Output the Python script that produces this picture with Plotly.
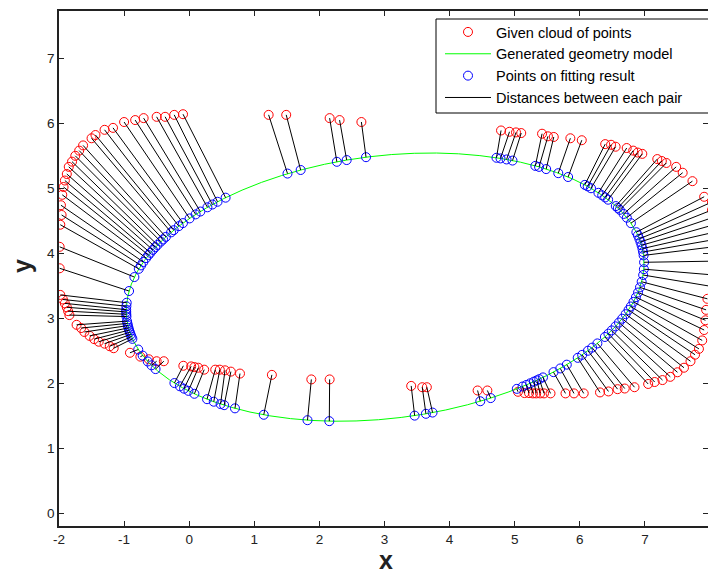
import plotly.graph_objects as go

FONT = "Liberation Sans, Arial, Helvetica, sans-serif"

# Given cloud of points (red)
red_x = [
    # upper-left arc
    -0.095, -0.23, -0.37, -0.50, -0.70, -0.83, -1.00, -1.17, -1.30, -1.44, -1.50, -1.63, -1.69,
    -1.75, -1.80, -1.85, -1.88, -1.91, -1.93, -1.95, -1.97, -1.96, -1.98, -1.99, -1.99,
    # left side
    -1.98, -1.94, -1.91, -1.88, -1.86, -1.84, -1.73, -1.66, -1.61, -1.53, -1.46, -1.39, -1.30, -1.22, -1.16,
    # lower-left
    -0.91, -0.75, -0.62, -0.50, -0.39,
    -0.09, 0.03, 0.08, 0.14, 0.23,
    0.40, 0.47, 0.55, 0.64, 0.78,
    # bottom isolated
    1.27, 1.876, 2.157, 3.41, 3.58, 3.65, 4.43, 4.58,
    # lower-right arc
    5.05, 5.15, 5.22, 5.28, 5.33, 5.39, 5.45, 5.55, 5.78, 5.91, 6.06, 6.31, 6.44, 6.58, 6.69,
    6.84, 7.05, 7.15, 7.27, 7.39, 7.50, 7.60, 7.70, 7.77, 7.83, 7.88, 7.91, 7.93, 7.94, 7.96,
    # right side (beyond the visible edge)
    8.058, 8.08, 8.087, 8.072, 8.056, 8.082, 8.054, 8.07, 8.03, 8.03,
    # upper-right arc
    7.91, 7.73, 7.58, 7.48, 7.33, 7.26, 7.19, 6.96, 6.89, 6.82, 6.72, 6.55, 6.48, 6.39,
    6.03, 5.855, 5.60, 5.51, 5.42, 5.10, 5.02, 4.92, 4.79,
    # upper middle
    2.645, 2.31, 2.157, 1.49, 1.22,
]
red_y = [
    6.14, 6.13, 6.10, 6.10, 6.08, 6.05, 6.02, 5.93, 5.90, 5.82, 5.77, 5.66, 5.58,
    5.50, 5.41, 5.33, 5.22, 5.12, 5.02, 4.90, 4.74, 4.59, 4.44, 4.10, 3.77,
    3.36, 3.29, 3.23, 3.17, 3.11, 3.05, 2.90, 2.85, 2.79, 2.73, 2.68, 2.64, 2.61, 2.57, 2.54,
    2.47, 2.41, 2.37, 2.34, 2.34,
    2.27, 2.26, 2.25, 2.24, 2.21,
    2.21, 2.21, 2.20, 2.18, 2.15,
    2.13, 2.06, 2.06, 1.96, 1.94, 1.94, 1.89, 1.89,
    1.87, 1.85, 1.85, 1.845, 1.845, 1.845, 1.845, 1.845, 1.845, 1.845, 1.845, 1.86, 1.875, 1.91, 1.92,
    1.94, 1.99, 2.02, 2.05, 2.10, 2.17, 2.24, 2.34, 2.44, 2.53, 2.66, 2.82, 2.97, 3.13, 3.30,
    3.485, 3.665, 3.88, 4.102, 4.21, 4.329, 4.438, 4.56, 4.667, 4.79,
    4.87, 5.11, 5.24, 5.33, 5.39, 5.42, 5.45, 5.53, 5.55, 5.58, 5.62, 5.64, 5.67, 5.68,
    5.74, 5.77, 5.79, 5.80, 5.84, 5.85, 5.86, 5.87, 5.89,
    6.02, 6.05, 6.08, 6.13, 6.13,
]

# Points on fitting result (blue) -- paired with the red points above
fit_x = [
    0.559, 0.435, 0.356, 0.280, 0.171, 0.099, 0.006, -0.096, -0.160, -0.238, -0.278, -0.359, -0.401,
    -0.436, -0.487, -0.520, -0.558, -0.596, -0.625, -0.661, -0.705, -0.740, -0.774, -0.842, -0.924,
    -0.960, -0.965, -0.968, -0.967, -0.966, -0.964, -0.955, -0.949, -0.942, -0.933, -0.923, -0.912, -0.900, -0.887, -0.873,
    -0.783, -0.715, -0.637, -0.579, -0.517,
    -0.227, -0.143, -0.079, -0.012, 0.080,
    0.274, 0.377, 0.482, 0.537, 0.703,
    1.145, 1.817, 2.152, 3.463, 3.636, 3.738, 4.471, 4.631,
    5.032, 5.121, 5.179, 5.237, 5.294, 5.340, 5.378, 5.434, 5.596, 5.700, 5.800, 5.968, 6.036, 6.125, 6.189,
    6.270, 6.385, 6.439, 6.490, 6.549, 6.601, 6.651, 6.704, 6.749, 6.783, 6.825, 6.862, 6.894, 6.924, 6.950,
    6.973, 6.984, 6.987, 6.980, 6.972, 6.962, 6.948, 6.932, 6.914, 6.893,
    6.869, 6.785, 6.722, 6.673, 6.614, 6.584, 6.553, 6.435, 6.389, 6.344, 6.286, 6.172, 6.121, 6.077,
    5.820, 5.669, 5.483, 5.374, 5.317, 4.966, 4.875, 4.782, 4.720,
    2.716, 2.419, 2.268, 1.712, 1.510,
]
fit_y = [
    4.856, 4.793, 4.751, 4.708, 4.643, 4.599, 4.537, 4.465, 4.418, 4.356, 4.323, 4.253, 4.213,
    4.180, 4.129, 4.094, 4.053, 4.008, 3.973, 3.927, 3.867, 3.814, 3.761, 3.635, 3.420,
    3.240, 3.186, 3.133, 3.098, 3.062, 3.027, 2.957, 2.922, 2.888, 2.853, 2.819, 2.785, 2.751, 2.718, 2.684,
    2.520, 2.427, 2.336, 2.277, 2.219,
    2.004, 1.954, 1.918, 1.884, 1.839,
    1.756, 1.717, 1.681, 1.664, 1.615,
    1.516, 1.433, 1.418, 1.503, 1.531, 1.550, 1.724, 1.773,
    1.915, 1.951, 1.975, 2.000, 2.026, 2.046, 2.064, 2.091, 2.172, 2.229, 2.287, 2.392, 2.438, 2.501, 2.549,
    2.614, 2.713, 2.764, 2.814, 2.876, 2.935, 2.994, 3.064, 3.128, 3.182, 3.253, 3.325, 3.397, 3.476, 3.562,
    3.666, 3.756, 3.862, 3.968, 4.020, 4.072, 4.124, 4.175, 4.225, 4.276,
    4.325, 4.464, 4.548, 4.606, 4.669, 4.698, 4.727, 4.825, 4.860, 4.892, 4.931, 5.001, 5.030, 5.053,
    5.174, 5.233, 5.296, 5.330, 5.345, 5.427, 5.444, 5.460, 5.470,
    5.479, 5.435, 5.408, 5.282, 5.227,
]

# Generated geometry model (green curve)
model_x = [6.980, 6.943, 6.877, 6.781, 6.657, 6.504, 6.325, 6.121, 5.893, 5.643, 5.374, 5.086,
           4.782, 4.465, 4.137, 3.800, 3.457, 3.111, 2.764, 2.419, 2.079, 1.745, 1.421, 1.109,
           0.812, 0.532, 0.270, 0.029, -0.189, -0.383, -0.551, -0.692, -0.805, -0.888, -0.942, -0.966,
           -0.960, -0.923, -0.857, -0.761, -0.637, -0.484, -0.305, -0.101, 0.127, 0.377, 0.647, 0.934,
           1.238, 1.555, 1.883, 2.220, 2.563, 2.909, 3.256, 3.601, 3.941, 4.275, 4.599, 4.911,
           5.208, 5.489, 5.750, 5.991, 6.209, 6.403, 6.571, 6.712, 6.825, 6.908, 6.962, 6.986, 6.980]
model_y = [3.968, 4.141, 4.309, 4.470, 4.624, 4.770, 4.905, 5.030, 5.143, 5.243, 5.330, 5.403,
           5.460, 5.503, 5.531, 5.543, 5.539, 5.520, 5.485, 5.435, 5.370, 5.290, 5.197, 5.091,
           4.972, 4.843, 4.702, 4.553, 4.395, 4.230, 4.060, 3.885, 3.707, 3.527, 3.347, 3.169,
           2.992, 2.819, 2.651, 2.490, 2.336, 2.190, 2.055, 1.930, 1.817, 1.717, 1.631, 1.558,
           1.500, 1.457, 1.429, 1.417, 1.421, 1.440, 1.475, 1.525, 1.590, 1.670, 1.763, 1.869,
           1.988, 2.118, 2.258, 2.407, 2.565, 2.730, 2.900, 3.075, 3.253, 3.433, 3.612, 3.791, 3.968]

x_ticks = [-2, -1, 0, 1, 2, 3, 4, 5, 6, 7]
y_ticks = [0, 1, 2, 3, 4, 5, 6, 7]
x_range = [-2.0, 7.969]
y_range = [-0.195, 7.728]

# Segments between each pair
seg_x, seg_y = [], []
for rx, ry, bx, by in zip(red_x, red_y, fit_x, fit_y):
    seg_x += [rx, bx, None]
    seg_y += [ry, by, None]

fig = go.Figure()
fig.add_trace(go.Scatter(
    x=red_x, y=red_y, mode="markers", name="Given cloud of points",
    marker=dict(symbol="circle-open", size=9, color="#ff0000", line=dict(width=1, color="#ff0000")),
))
fig.add_trace(go.Scatter(
    x=model_x, y=model_y, mode="lines", name="Generated geometry model",
    line=dict(color="#00ff00", width=1),
))
fig.add_trace(go.Scatter(
    x=fit_x, y=fit_y, mode="markers", name="Points on fitting result",
    marker=dict(symbol="circle-open", size=9, color="#0000ff", line=dict(width=1, color="#0000ff")),
))
fig.add_trace(go.Scatter(
    x=seg_x, y=seg_y, mode="lines", name="Distances between each pair",
    line=dict(color="#000000", width=1), connectgaps=False,
))

axis_common = dict(
    ticks="inside", ticklen=5, tickwidth=1, tickcolor="#222222",
    showline=True, linecolor="#222222", linewidth=1.5, mirror="ticks",
    showgrid=False, zeroline=False, automargin=False,
    tickfont=dict(family=FONT, size=13.5, color="#222222"),
)

W, H = 708, 574
L, R, T, B = 59, 0, 11, 48
PW, PH = W - L - R, H - T - B

fig.update_layout(
    width=W, height=H,
    margin=dict(l=L, r=R, t=T, b=B),
    paper_bgcolor="white", plot_bgcolor="white",
    showlegend=True,
    xaxis=dict(range=x_range, tickvals=x_ticks, ticktext=[str(v) for v in x_ticks], **axis_common),
    yaxis=dict(range=y_range, tickvals=y_ticks, ticktext=[str(v) for v in y_ticks], **axis_common),
    legend=dict(
        x=(440 - L) / PW, y=1 - (16 - T) / PH, xanchor="left", yanchor="top",
        bgcolor="rgba(0,0,0,0)", borderwidth=0,
        font=dict(family=FONT, size=14.5, color="#000000"),
        itemwidth=46, traceorder="normal",
    ),
    shapes=[dict(
        type="rect", xref="paper", yref="paper",
        x0=(436 - L) / PW, x1=1.05,
        y0=1 - (113 - T) / PH, y1=1 - (19 - T) / PH,
        line=dict(color="#000000", width=1), fillcolor="white", layer="above",
    )],
    annotations=[
        dict(text="<b>x</b>", xref="paper", yref="paper",
             x=(386 - L) / PW, y=-(560 - (H - B)) / PH, xanchor="center", yanchor="middle",
             showarrow=False, font=dict(family=FONT, size=25, color="#222222")),
        dict(text="<b>y</b>", xref="paper", yref="paper",
             x=-(L - 22) / PW, y=((H - B) - 266) / PH, xanchor="center", yanchor="middle",
             textangle=-90, showarrow=False, font=dict(family=FONT, size=25, color="#222222")),
    ],
)

fig.write_html(
    "out.html",
    config={"displayModeBar": False},
    post_script="document.body.style.margin='0px';document.body.style.overflow='hidden';",
)
